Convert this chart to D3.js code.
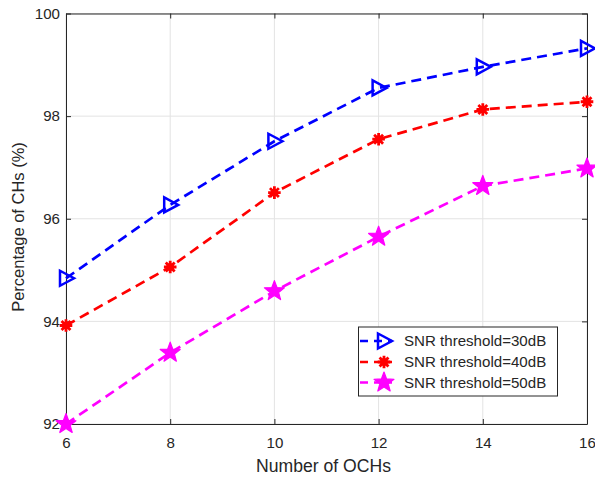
<!DOCTYPE html>
<html><head><meta charset="utf-8">
<script src="https://cdn.jsdelivr.net/npm/d3@7"></script>
<style>body{margin:0;background:#fff}svg{display:block}text{font-family:"Liberation Sans",Arial,sans-serif;fill:#262626}</style>
</head><body><svg id="c" width="595" height="477"></svg>
<script>
const xValues = [6, 8, 10, 12, 14, 16];
const snr30 = [94.84, 96.27, 97.51, 98.55, 98.96, 99.32];
const snr40 = [93.92, 95.06, 96.51, 97.55, 98.13, 98.28];
const snr50 = [92.00, 93.39, 94.59, 95.65, 96.64, 96.98];
const seriesNames = ["SNR threshold=30dB", "SNR threshold=40dB", "SNR threshold=50dB"];
const xTicks = [6, 8, 10, 12, 14, 16];
const yTicks = [92, 94, 96, 98, 100];

const svg = d3.select("#c");
const L = 66, R = 587, T = 13.5, B = 424;
const x = d3.scaleLinear().domain([6, 16]).range([L, R]);
const y = d3.scaleLinear().domain([92, 100]).range([B, T]);
const axisCol = "#262626";

// grid
svg.append("g").selectAll("line").data(xTicks).join("line")
  .attr("x1", d => x(d)).attr("x2", d => x(d)).attr("y1", T).attr("y2", B)
  .attr("stroke", "#e3e3e3").attr("stroke-width", 1);
svg.append("g").selectAll("line").data(yTicks).join("line")
  .attr("x1", L).attr("x2", R).attr("y1", d => y(d)).attr("y2", d => y(d))
  .attr("stroke", "#e3e3e3").attr("stroke-width", 1);

// axes
const fs = 15.1;
const xAxis = d3.axisBottom(x).tickValues(xTicks).tickSize(-5).tickPadding(13).tickSizeOuter(0);
const gx = svg.append("g").attr("transform", `translate(0,${B})`).call(xAxis);
const yAxis = d3.axisLeft(y).tickValues(yTicks).tickSize(-5).tickPadding(6).tickSizeOuter(0);
const gy = svg.append("g").attr("transform", `translate(${L},0)`).call(yAxis);
const gxTop = svg.append("g").attr("transform", `translate(0,${T})`).call(d3.axisTop(x).tickValues(xTicks).tickSize(-5).tickFormat("").tickSizeOuter(0));
const gyRight = svg.append("g").attr("transform", `translate(${R},0)`).call(d3.axisRight(y).tickValues(yTicks).tickSize(-5).tickFormat("").tickSizeOuter(0));
[gx, gy, gxTop, gyRight].forEach(g => {
  g.select(".domain").attr("stroke", axisCol).attr("stroke-width", 1);
  g.selectAll(".tick line").attr("stroke", axisCol);
  g.selectAll("text").attr("font-size", fs).attr("font-family", "Liberation Sans, Arial, sans-serif").attr("fill", axisCol);
});

// axis labels
svg.append("text").attr("x", (L + R) / 2 - 3).attr("y", 472).attr("text-anchor", "middle")
  .attr("font-size", 17.6).text("Number of OCHs");
svg.append("text").attr("transform", `translate(24,227) rotate(-90)`).attr("text-anchor", "middle")
  .attr("font-size", 16.5).text("Percentage of CHs (%)");

// markers
function triangle(g, cx, cy, color) {
  g.append("path").attr("d", `M${cx - 6},${cy - 7.5}L${cx + 8},${cy}L${cx - 6},${cy + 7.5}Z`)
    .attr("fill", "none").attr("stroke", color).attr("stroke-width", 2.5).attr("stroke-linejoin", "miter");
}
function asterisk(g, cx, cy, color) {
  const r = 6.3;
  const p = [];
  for (let i = 0; i < 4; i++) {
    const a = i * Math.PI / 4;
    p.push(`M${cx - r * Math.cos(a)},${cy - r * Math.sin(a)}L${cx + r * Math.cos(a)},${cy + r * Math.sin(a)}`);
  }
  g.append("path").attr("d", p.join("")).attr("stroke", color).attr("stroke-width", 2.8).attr("fill", "none");
  g.append("circle").attr("cx", cx).attr("cy", cy).attr("r", 3.8).attr("fill", color);
}
function star(g, cx, cy, color) {
  const ro = 10.5, ri = 4.4;
  const pts = [];
  for (let i = 0; i < 10; i++) {
    const a = -Math.PI / 2 + i * Math.PI / 5;
    const r = i % 2 === 0 ? ro : ri;
    pts.push([cx + r * Math.cos(a), cy + r * Math.sin(a)]);
  }
  g.append("path").attr("d", "M" + pts.map(p => p.join(",")).join("L") + "Z")
    .attr("fill", color).attr("stroke", color).attr("stroke-width", 1.2).attr("stroke-linejoin", "round");
}

const series = [
  { vals: snr30, color: "#0000ff", mk: triangle },
  { vals: snr40, color: "#ff0000", mk: asterisk },
  { vals: snr50, color: "#ff00ff", mk: star }
];
const line = d3.line().x((d, i) => x(xValues[i])).y(d => y(d));
series.forEach(s => {
  const g = svg.append("g");
  g.append("path").attr("d", line(s.vals)).attr("fill", "none").attr("stroke", s.color)
    .attr("stroke-width", 2.7).attr("stroke-dasharray", "10,6");
  s.vals.forEach((v, i) => s.mk(g, x(xValues[i]), y(v), s.color));
});

// legend
const lg = svg.append("g");
lg.append("rect").attr("x", 358.5).attr("y", 327).attr("width", 199).attr("height", 69)
  .attr("fill", "#fff").attr("stroke", axisCol).attr("stroke-width", 1);
const rowsY = [341, 362, 382.5];
series.forEach((s, i) => {
  const yy = rowsY[i];
  lg.append("line").attr("x1", 360).attr("x2", 392).attr("y1", yy).attr("y2", yy)
    .attr("stroke", s.color).attr("stroke-width", 2.7).attr("stroke-dasharray", "8,6");
  s.mk(lg, 384, yy, s.color);
  lg.append("text").attr("x", 404).attr("y", yy + 5).attr("font-size", fs).text(seriesNames[i]);
});
</script></body></html>
